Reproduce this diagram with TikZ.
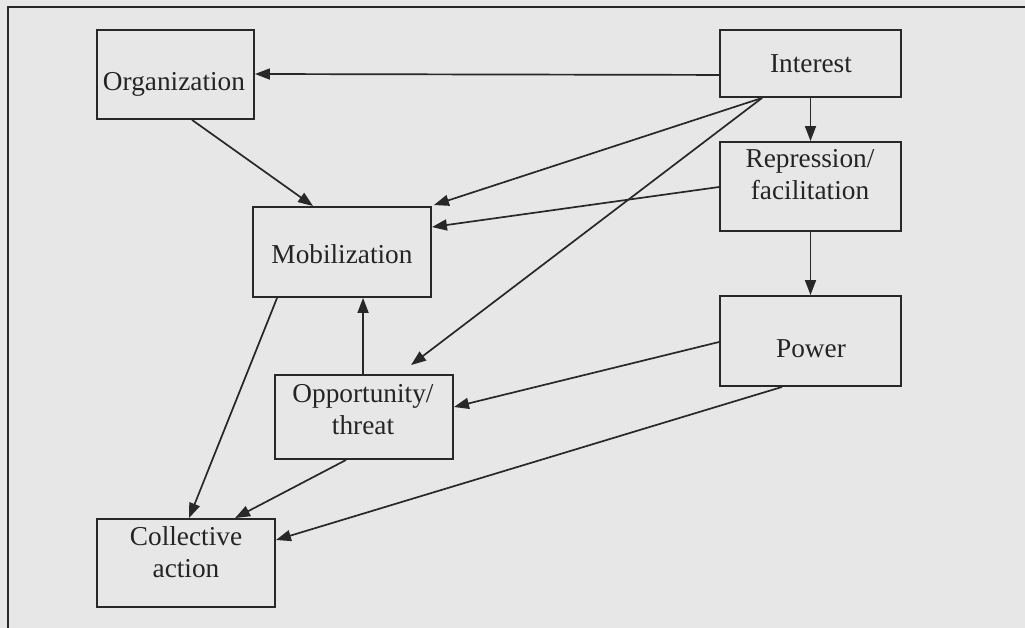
\documentclass[tikz,border=0pt]{standalone}
\usepackage{fontspec}
\setmainfont{Liberation Serif}
\usetikzlibrary{arrows.meta,calc}
\definecolor{paper}{RGB}{231,231,231}
\definecolor{ink}{RGB}{40,40,40}
\begin{document}
\begin{tikzpicture}[x=1pt,y=-1pt,
  box/.style={draw=ink,line width=1.9pt,rectangle,inner sep=0pt},
  lbl/.style={text=ink!90!black,inner sep=0pt,align=center,font=\fontsize{27.3}{32}\selectfont},
  link/.style={draw=ink,line width=1.7pt,-{Triangle[length=15pt,width=11pt]}}]
  % canvas and frame
  \fill[paper] (0,0) rectangle (1025,628);
  \useasboundingbox (0,0) rectangle (1025,628);
  \draw[ink,line width=2.2pt] (1025,7) -- (8,7) -- (8,628);

  % boxes
  \node[box,minimum width=157pt,minimum height=89pt] (org) at (175.5,74.5) {};
  \node[box,minimum width=181pt,minimum height=67pt] (int) at (810.5,63.5) {};
  \node[box,minimum width=181pt,minimum height=89pt] (rep) at (810.5,186.5) {};
  \node[box,minimum width=178pt,minimum height=90pt] (mob) at (342,252) {};
  \node[box,minimum width=178pt,minimum height=84pt] (opp) at (364,417) {};
  \node[box,minimum width=178pt,minimum height=88pt] (col) at (186,563) {};
  \node[box,minimum width=181pt,minimum height=90pt] (pow) at (810.5,341) {};

  % labels
  \node[lbl,anchor=base] (org-t) at (174,91) {Organization};
  \node[lbl,anchor=base] (int-t) at (811,73) {Interest};
  \node[lbl] (rep-t) at (810,175) {Repression/\\facilitation};
  \node[lbl,anchor=base] (mob-t) at (342,264) {Mobilization};
  \node[lbl] (opp-t) at (363,410) {Opportunity/\\threat};
  \node[lbl] (col-t) at (186,552) {Collective\\action};
  \node[lbl,anchor=base] (pow-t) at (811,357) {Power};

  % connectors
  \coordinate (intfan) at ($(int.south west)+(43,0)$);
  \draw[link] ($(int.south west)+(0,-23)$) -- ($(org.east)+(0,-0.5)$);
  \draw[link] (intfan) -- ($(mob.north east)+(2,-1)$);
  \draw[link] (intfan) -- ($(opp.north west)+(137,-9)$);
  \draw[link] ($(rep.west)+(0,0.5)$) -- ($(mob.north east)+(0,21)$);
  \draw[link] ($(org.south west)+(96,0)$) -- ($(mob.north west)+(61,0)$);
  \draw[link] (int.south) -- (rep.north);
  \draw[link] (rep.south) -- (pow.north);
  \draw[link] ($(opp.north west)+(89,0)$) -- ($(mob.south west)+(111,0)$);
  \draw[link] ($(pow.west)+(0,1)$) -- ($(opp.east)+(0,-10)$);
  \draw[link] ($(pow.south west)+(63,0)$) -- ($(col.east)+(0,-23)$);
  \draw[link] ($(opp.south west)+(72,0)$) -- ($(col.north west)+(139,0)$);
  \draw[link] ($(mob.south west)+(25,0)$) -- ($(col.north west)+(93,0)$);
\end{tikzpicture}
\end{document}
